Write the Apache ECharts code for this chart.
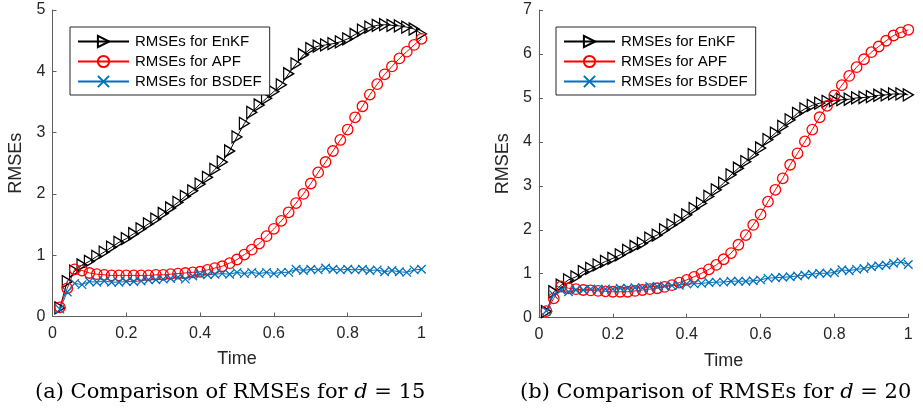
<!DOCTYPE html>
<html>
<head>
<meta charset="utf-8">
<script src="https://cdn.jsdelivr.net/npm/echarts@6/dist/echarts.min.js"></script>
<style>
html,body{margin:0;padding:0;background:#fff;}
#chart{width:923px;height:410px;}
</style>
</head>
<body>
<div id="chart"></div>
<script>
// ---- data ----
const time = [0.02,0.04,0.06,0.08,0.10,0.12,0.14,0.16,0.18,0.20,
              0.22,0.24,0.26,0.28,0.30,0.32,0.34,0.36,0.38,0.40,
              0.42,0.44,0.46,0.48,0.50,0.52,0.54,0.56,0.58,0.60,
              0.62,0.64,0.66,0.68,0.70,0.72,0.74,0.76,0.78,0.80,
              0.82,0.84,0.86,0.88,0.90,0.92,0.94,0.96,0.98,1.00];

// (a) d = 15
const enkfA = [0.14,0.57,0.74,0.84,0.90,0.98,1.05,1.13,1.21,1.27,
               1.35,1.43,1.51,1.59,1.68,1.77,1.86,1.96,2.05,2.16,
               2.27,2.40,2.52,2.70,2.93,3.15,3.33,3.45,3.56,3.67,
               3.78,3.96,4.12,4.27,4.37,4.41,4.43,4.45,4.48,4.53,
               4.60,4.67,4.72,4.75,4.76,4.75,4.74,4.72,4.69,4.61];
const apfA  = [0.15,0.46,0.77,0.75,0.71,0.69,0.68,0.67,0.67,0.67,
               0.67,0.67,0.67,0.68,0.68,0.69,0.70,0.71,0.72,0.73,
               0.76,0.79,0.82,0.87,0.93,1.01,1.09,1.19,1.31,1.43,
               1.56,1.70,1.85,2.00,2.17,2.35,2.52,2.70,2.88,3.05,
               3.25,3.43,3.62,3.79,3.95,4.08,4.21,4.32,4.43,4.53];
const bsdefA = [0.12,0.40,0.54,0.52,0.57,0.56,0.58,0.56,0.56,0.57,
                0.57,0.58,0.60,0.60,0.61,0.62,0.64,0.61,0.66,0.69,
                0.68,0.69,0.70,0.69,0.72,0.70,0.72,0.70,0.72,0.70,
                0.72,0.72,0.77,0.75,0.77,0.76,0.79,0.77,0.76,0.77,
                0.76,0.77,0.75,0.76,0.73,0.75,0.73,0.72,0.76,0.77];

// (b) d = 20
const enkfB = [0.14,0.59,0.74,0.86,0.93,1.05,1.12,1.20,1.28,1.35,
               1.43,1.53,1.62,1.69,1.81,1.88,2.00,2.11,2.22,2.34,
               2.48,2.60,2.76,2.91,3.06,3.25,3.40,3.55,3.71,3.86,
               4.05,4.20,4.35,4.50,4.65,4.75,4.83,4.88,4.92,4.94,
               4.96,4.97,5.00,5.01,5.03,5.06,5.07,5.09,5.09,5.07];
const apfB  = [0.15,0.44,0.71,0.67,0.65,0.63,0.62,0.61,0.60,0.59,
               0.59,0.59,0.61,0.63,0.65,0.67,0.70,0.74,0.80,0.86,
               0.93,1.01,1.10,1.20,1.33,1.47,1.66,1.88,2.11,2.35,
               2.64,2.91,3.17,3.48,3.74,4.01,4.28,4.56,4.82,5.06,
               5.29,5.50,5.70,5.88,6.04,6.17,6.30,6.42,6.49,6.55];
const bsdefB = [0.16,0.52,0.63,0.59,0.63,0.63,0.65,0.65,0.65,0.65,
                0.67,0.67,0.68,0.68,0.71,0.71,0.72,0.73,0.74,0.77,
                0.77,0.78,0.80,0.81,0.81,0.83,0.83,0.83,0.84,0.86,
                0.90,0.91,0.92,0.93,0.95,0.97,0.99,1.01,1.01,1.03,
                1.09,1.07,1.10,1.12,1.16,1.18,1.20,1.24,1.27,1.21];

const xTicks = [0, 0.2, 0.4, 0.6, 0.8, 1];
const names = ['RMSEs for EnKF', 'RMSEs for APF', 'RMSEs for BSDEF'];
const captions = ['(a) Comparison of RMSEs for {i|d} = 15', '(b) Comparison of RMSEs for {i|d} = 20'];

// ---- chart ----
const pair = (ys) => time.map((t, i) => [t, ys[i]]);
const AX = '#5e5e5e';
const TXT = '#262626';
const SANS = '"Liberation Sans", Arial, sans-serif';
const crossPath = 'path://M0,0L10,10M10,0L0,10';

function xAxisCfg(gi) {
  return {
    type: 'value', gridIndex: gi, min: 0, max: 1, interval: 0.2,
    name: 'Time', nameLocation: 'middle', nameGap: 34,
    nameTextStyle: { fontFamily: SANS, fontSize: 18, color: TXT },
    axisLine: { show: true, onZero: false, lineStyle: { color: AX, width: 1 } },
    axisTick: { show: true, inside: true, length: 4, lineStyle: { color: AX } },
    axisLabel: { fontFamily: SANS, fontSize: 16, color: TXT, margin: 9,
                 formatter: v => String(v) },
    splitLine: { show: false }
  };
}
function yAxisCfg(gi, max) {
  return {
    type: 'value', gridIndex: gi, min: 0, max: max, interval: 1,
    name: 'RMSEs', nameLocation: 'middle', nameGap: 27,
    nameTextStyle: { fontFamily: SANS, fontSize: 18, color: TXT },
    axisLine: { show: true, onZero: false, lineStyle: { color: AX, width: 1 } },
    axisTick: { show: true, inside: true, length: 4, lineStyle: { color: AX } },
    axisLabel: { fontFamily: SANS, fontSize: 16, color: TXT, margin: 7 },
    splitLine: { show: false }
  };
}
function mkSeries(gi, enkf, apf, bsdef) {
  return [
    { name: names[0], type: 'line', xAxisIndex: gi, yAxisIndex: gi, data: pair(enkf),
      symbol: 'triangle', symbolSize: [12, 10], symbolRotate: -90, showAllSymbol: true,
      itemStyle: { color: 'rgba(0,0,0,0)', borderColor: '#000', borderWidth: 1.3 },
      lineStyle: { color: '#000', width: 1 }, emphasis: { disabled: true }, animation: false },
    { name: names[1], type: 'line', xAxisIndex: gi, yAxisIndex: gi, data: pair(apf),
      symbol: 'circle', symbolSize: 10.5, showAllSymbol: true,
      itemStyle: { color: 'rgba(0,0,0,0)', borderColor: '#ff0000', borderWidth: 1.3 },
      lineStyle: { color: '#ff0000', width: 1 }, emphasis: { disabled: true }, animation: false },
    { name: names[2], type: 'line', xAxisIndex: gi, yAxisIndex: gi, data: pair(bsdef),
      symbol: crossPath, symbolSize: 8.5, showAllSymbol: true,
      itemStyle: { color: 'rgba(0,0,0,0)', borderColor: '#0072BD', borderWidth: 1.3 },
      lineStyle: { color: '#0072BD', width: 1 }, emphasis: { disabled: true }, animation: false }
  ];
}
function legendCfg(left) {
  return {
    left: left, top: 27, orient: 'vertical', data: names,
    itemWidth: 51, itemHeight: 14, itemGap: 5,
    backgroundColor: '#fff', borderColor: '#262626', borderWidth: 1,
    padding: [7, 8, 6, 7], selectedMode: false,
    textStyle: { fontFamily: SANS, fontSize: 15, color: '#000', padding: [0, 0, 0, 1] }
  };
}
function caption(x, txt) {
  return {
    type: 'text', left: x, top: 382,
    style: {
      text: txt, font: '21px "DejaVu Serif", serif', fill: '#000',
      rich: { i: { fontFamily: '"DejaVu Serif", serif', fontStyle: 'italic', fontSize: 21 } }
    }
  };
}

const chart = echarts.init(document.getElementById('chart'), null, { renderer: 'canvas' });
chart.setOption({
  animation: false,
  backgroundColor: '#fff',
  grid: [
    { left: 52.5, top: 10, width: 369, height: 306.5 },
    { left: 539, top: 10, width: 369.3, height: 307.7 }
  ],
  xAxis: [xAxisCfg(0), xAxisCfg(1)],
  yAxis: [yAxisCfg(0, 5), yAxisCfg(1, 7)],
  legend: [legendCfg(70), legendCfg(556)],
  series: [...mkSeries(0, enkfA, apfA, bsdefA), ...mkSeries(1, enkfB, apfB, bsdefB)],
  graphic: [caption(35, captions[0]), caption(520, captions[1])]
});
</script>
</body>
</html>
